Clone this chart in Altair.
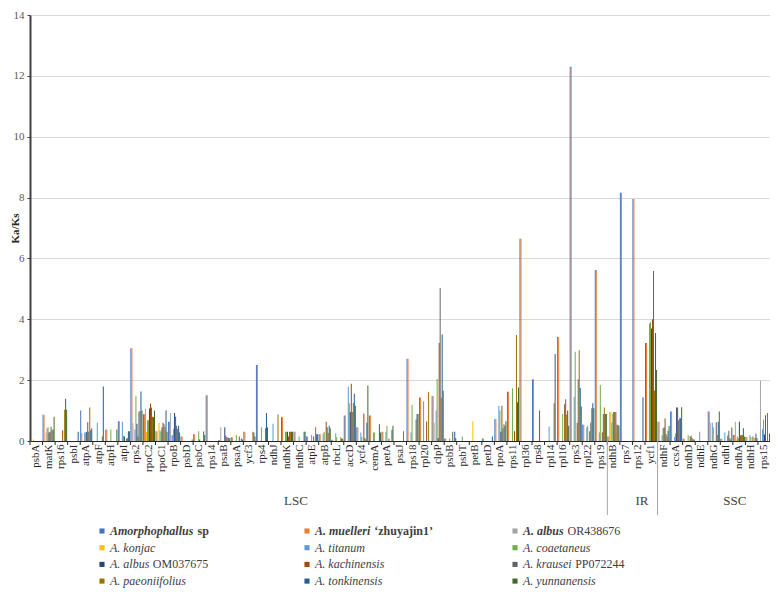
import altair as alt
import pandas as pd

# ---------------- data ----------------
GENES = ["psbA", "matK", "rps16", "psbI", "atpA", "atpF", "atpH", "atpI", "rps2", "rpoC2",
         "rpoC1", "rpoB", "psbD", "psbC", "rps14", "psaB", "psaA", "ycf3", "rps4", "ndhJ",
         "ndhK", "ndhC", "atpE", "atpB", "rbcL", "accD", "ycf4", "cemA", "petA", "psaJ",
         "rps18", "rpl20", "clpP", "psbB", "psbT", "petB", "petD", "rpoA", "rps11", "rpl36",
         "rps8", "rpl14", "rpl16", "rps3", "rpl22", "rps19", "ndhB", "rps7", "rps12", "ycf1",
         "ndhF", "ccsA", "ndhD", "ndhE", "ndhG", "ndhI", "ndhA", "ndhH", "rps15"]

SERIES = ["Amorphophallus sp", "A. muelleri 'zhuyajin1'", "A. albus OR438676", "A. konjac",
          "A. titanum", "A. coaetaneus", "A. albus OM037675", "A. kachinensis",
          "A. krausei PP072244", "A. paeoniifolius", "A. tonkinensis", "A. yunnanensis"]

# legend text split into italic part and upright suffix
LEGEND_MAIN = ["Amorphophallus", "A. muelleri", "A. albus", "A. konjac", "A. titanum",
               "A. coaetaneus", "A. albus", "A. kachinensis", "A. krausei", "A. paeoniifolius",
               "A. tonkinensis", "A. yunnanensis"]
LEGEND_SUFFIX = ["sp", "\u2018zhuyajin1\u2019", "OR438676", "", "", "", "OM037675", "", "PP072244",
                 "", "", ""]
LEGEND_BOLD = [True, True, True, False, False, False, False, False, False, False, False, False]

COLORS = ["#4472C4", "#ED7D31", "#A5A5A5", "#FFC000", "#5B9BD5", "#70AD47",
          "#264478", "#9E480E", "#636363", "#997300", "#255E91", "#43682B"]

S1 = [0, 0.86, 0, 0, 1.0, 0, 0.38, 0.65, 3.05, 0.88, 0.32, 0.63, 0.15, 0.22, 1.5, 0.03, 0.12, 0.3, 2.5, 0,
      0.78, 0.3, 0.15, 0.22, 0.04, 0.84, 0.45, 0.84, 0.3, 0, 2.7, 1.43, 1.48, 0.08, 0, 0, 0.08, 0.72, 1.62, 6.65,
      2.03, 0, 3.42, 12.3, 0.53, 5.62, 0.15, 8.16, 7.95, 3.22, 0.63, 0.97, 0.07, 0, 0.97, 0.07, 0.2, 0.13, 0]
S2 = [0, 0.86, 0, 0, 0.26, 0, 0.38, 0.65, 3.05, 0.88, 0.32, 0.63, 0.15, 0.22, 1.5, 0.03, 0.12, 0.3, 2.5, 0,
      0.78, 0.3, 0.15, 0.22, 0.04, 0.84, 0.45, 0.84, 0.3, 0, 2.7, 1.43, 1.48, 0.08, 0, 0, 0.08, 0.72, 1.62, 6.65,
      2.03, 0, 3.42, 12.3, 0.53, 5.62, 0.15, 8.16, 7.95, 3.22, 0.63, 0.97, 0.07, 0, 0.97, 0.07, 0.2, 0.13, 0]
S3 = [0, 0, 0, 0, 0, 0, 0, 0, 0.58, 1.07, 0, 0.92, 0, 0, 0, 0.45, 0, 0, 0, 0,
      0, 0, 0, 0, 0, 0, 0, 0, 0, 0, 0, 0, 0.6, 0, 0, 0, 0, 0, 0, 0,
      0, 0, 0, 0, 0, 0, 0.95, 0, 0, 0, 0, 0, 0, 0, 0.6, 0, 0.63, 0, 1.98]
S4 = [0.05, 0.28, 0, 0, 0, 0, 0, 0, 0, 0.3, 0.6, 0.18, 0, 0, 0, 0, 0, 0, 0, 0,
      0, 0, 0, 0, 0, 0, 0, 0, 0, 0, 0, 0, 0, 0, 0, 0.64, 0, 0, 0, 0,
      0, 0, 0, 0, 0, 0, 0.95, 0, 0, 0, 0, 0, 0, 0, 0, 0, 0.05, 0, 0]
S5 = [0, 0.42, 0, 0, 0.28, 0.6, 0, 0.63, 0.38, 0.68, 0.35, 0.2, 0, 0, 0, 0, 0, 0, 0, 0.57,
      0.3, 0, 0, 0.25, 0.25, 1.78, 0.28, 0.28, 0.3, 0, 0.28, 1.31, 1.0, 0, 0, 0, 0, 1.16, 0, 0,
      0, 0.48, 0, 1.45, 0.45, 0.29, 0.6, 0, 0, 3.86, 0.2, 0.13, 0, 0.3, 0.6, 0.28, 0.15, 0.2, 0.39]
S6 = [0, 0.45, 0, 0, 0.28, 0, 0.38, 0.17, 1.47, 0.68, 0.3, 0.4, 0, 0.32, 0, 0, 0.2, 0, 0.45, 0,
      0.3, 0.15, 0.2, 0.3, 0.12, 1.24, 0.13, 0.28, 0.5, 0, 1.19, 0, 2.04, 0.08, 0.15, 0, 0, 1.0, 1.73, 0,
      0, 0, 0.89, 2.93, 0.5, 1.84, 0.9, 0, 0, 3.9, 0.42, 0.25, 0.2, 0, 0.45, 0, 0.1, 0.13, 0.71]
S7 = [0, 0.28, 0, 0, 0.3, 0, 0, 0.15, 0.57, 1.07, 0.45, 0.92, 0, 0.05, 0, 0.45, 0, 0, 0, 0,
      0.3, 0, 0, 0, 0, 0.95, 0, 0, 0, 0, 0, 0, 0.1, 0, 0, 0, 0, 0.3, 0, 0,
      0, 0, 0, 0, 0, 0, 0.95, 0, 0, 3.7, 0.44, 1.1, 0, 0, 0, 0, 0.63, 0, 0.21]
S8 = [0, 0.3, 0.35, 0, 0.62, 0, 0, 0, 0.15, 1.23, 0.6, 0.8, 0, 0, 0, 0.18, 0, 0, 0, 0,
      0.15, 0, 0.15, 0.63, 0, 1.88, 0.9, 0, 0.07, 0, 0, 0.64, 3.22, 0, 0, 0, 0, 1.16, 0.32, 0,
      1.0, 0, 1.21, 0.6, 0.32, 0.29, 0.95, 0, 0, 4.0, 0.74, 1.1, 0.15, 0, 0, 0.18, 0.18, 0.15, 0.85]
S9 = [0, 0.47, 0, 0, 0.3, 0, 0, 0.07, 0.97, 1.1, 0.55, 0.5, 0, 0, 0, 0.12, 0.15, 0, 0, 0,
      0.3, 0, 0, 0.45, 0, 0.95, 0.1, 0, 0, 0, 0, 0, 5.03, 0.3, 0, 0, 0, 0.42, 0, 0,
      0, 0, 1.37, 2.03, 0.6, 0.89, 0.95, 0, 0, 5.59, 0.23, 0.68, 0.17, 0, 0.62, 0.34, 0.2, 0, 0]
S10 = [0, 0.35, 1.03, 0, 1.1, 0.15, 0, 0.1, 0.97, 0.8, 0.45, 0.4, 0, 0, 0, 0.12, 0, 0.3, 0.42, 0.87,
       0.3, 0, 0.45, 0.26, 0.12, 1.25, 0.05, 0, 0, 0.32, 0.71, 1.61, 1.42, 0, 0, 0, 0, 0.55, 3.48, 0,
       0, 1.24, 0.87, 2.98, 1.08, 1.1, 0.53, 0, 0, 1.66, 0.15, 0.75, 0.1, 0, 0.2, 0.1, 0.2, 0.1, 0.92]
S11 = [0, 0.38, 1.39, 0.3, 0.35, 1.79, 0, 0.32, 1.63, 0.78, 1.0, 0.5, 0, 0.31, 0, 0.1, 0.08, 0.28, 0.92, 0,
       0.3, 0.3, 0.22, 0.5, 0.07, 1.55, 0.6, 0.55, 0.37, 0, 0.89, 0, 3.5, 0.3, 0, 0, 0.15, 0.5, 1.27, 0,
       0, 2.86, 1.0, 1.74, 1.24, 0.89, 0.53, 0, 1.44, 3.55, 0.34, 0.75, 0.05, 0, 0.63, 0.05, 0.42, 0.25, 0]
S12 = [0, 0.8, 1.03, 0, 0.42, 0, 0.38, 0.32, 1.0, 1.0, 0.3, 0.28, 0.05, 0.2, 0, 0.1, 0.05, 0.15, 0.45, 0,
       0.3, 0.3, 0.22, 0.42, 0.07, 1.16, 1.82, 0.28, 0.5, 0, 0.89, 0, 1.65, 0.1, 0, 0, 0, 0.65, 1.76, 0,
       0, 0, 0.5, 1.13, 1.08, 0.89, 0.5, 0, 0, 2.33, 0.49, 1.11, 0.05, 0, 0.97, 0.44, 0.15, 0.1, 0.25]

REGIONS = ["LSC", "IR", "SSC"]
REGION_ANCHOR = ["ndhK", "rps12", "ndhI"]     # gene whose band start carries the label
REGION_BOUNDS = ["ndhB", "ndhF"]             # genes where a new region starts

ALL = [S1, S2, S3, S4, S5, S6, S7, S8, S9, S10, S11, S12]

# ---------------- layout ----------------
W, H = 740, 426
FONT = "Liberation Serif"
TXT = "#404040"

rows = []
for name, vals in zip(SERIES, ALL):
    for g, v in zip(GENES, vals):
        rows.append({"gene": g, "series": name, "value": v})
df = pd.DataFrame(rows)

color_scale = alt.Scale(domain=SERIES, range=COLORS)
X_SCALE = alt.Scale(paddingInner=0.04, paddingOuter=0)
X_AXIS = alt.Axis(title=None, labelAngle=270, labelAlign="right", labelBaseline="middle",
                  labelFont=FONT, labelFontSize=11, labelColor="#262626", labelPadding=3,
                  labelOverlap=False, ticks=False, domainColor="#262626", domainWidth=1.2,
                  grid=False)


def xenc(**kw):
    return alt.X("gene:N", sort=GENES, scale=X_SCALE, axis=X_AXIS, **kw)


bars = alt.Chart(df).mark_bar().encode(
    x=xenc(),
    xOffset=alt.XOffset("series:N", sort=SERIES, scale=alt.Scale(paddingInner=0, paddingOuter=0)),
    y=alt.Y("value:Q", scale=alt.Scale(domain=[0, 14], nice=False),
            axis=alt.Axis(title="Ka/Ks", values=[0, 2, 4, 6, 8, 10, 12, 14], format="d",
                          labelFont=FONT, labelFontSize=11, labelColor="#595959", labelPadding=3,
                          tickSize=3, tickColor="#404040", domainColor="#404040", domainWidth=2,
                          gridColor="#D9D9D9", gridWidth=1,
                          titleFont=FONT, titleFontSize=11, titleFontWeight="bold", titleColor="#262626",
                          titleAngle=270, titleX=-15, titleY=H / 2, titleAlign="center",
                          titleBaseline="middle")),
    color=alt.Color("series:N", scale=color_scale, legend=None),
)

gdf = pd.DataFrame({"gene": GENES})
ticks = alt.Chart(gdf).mark_rule(color="#262626", strokeWidth=1).encode(
    x=xenc(bandPosition=0),
    y=alt.value(H), y2=alt.value(H + 4),
)

bdf = pd.DataFrame({"gene": REGION_BOUNDS})
seps = alt.Chart(bdf).mark_rule(color="#A6A6A6", strokeWidth=1).encode(
    x=xenc(bandPosition=0),
    y=alt.value(H), y2=alt.value(H + 74),
)

rdf = pd.DataFrame({"gene": REGION_ANCHOR, "label": REGIONS})
region_txt = alt.Chart(rdf).mark_text(font=FONT, fontSize=13, color=TXT, align="left",
                                      baseline="middle", dx=3).encode(
    x=xenc(bandPosition=0),
    y=alt.value(H + 60),
    text="label:N",
)

# ---------- manual legend (3 columns x 4 rows) ----------
COL_X = [72, 277, 485]        # square centre, plot coordinates
ROW_Y0, ROW_DY = 516, 16.7
TEXT_GAP = 8

# approximate Times/Liberation Serif advance widths (em)
CW = {"A": 0.63, ".": 0.25, " ": 0.25, "m": 0.74, "u": 0.52, "e": 0.444, "l": 0.278, "r": 0.389,
      "i": 0.278, "a": 0.5, "b": 0.5, "s": 0.389, "k": 0.444, "o": 0.5, "n": 0.52, "j": 0.278,
      "c": 0.444, "t": 0.278, "p": 0.5, "h": 0.52, "f": 0.278, "y": 0.444, "z": 0.389}


def text_w(s, size, bold):
    w = sum(CW.get(ch, 0.5) for ch in s) * size
    return w * (1.04 if bold else 1.0)


leg = []
for i, name in enumerate(SERIES):
    col, row = i % 3, i // 3
    size = 12
    lx = COL_X[col]
    ly = ROW_Y0 + row * ROW_DY
    tx = lx + TEXT_GAP
    leg.append({
        "series": name, "lx": lx, "ly": ly, "tx": tx, "main": LEGEND_MAIN[i],
        "suffix": LEGEND_SUFFIX[i], "bold": LEGEND_BOLD[i], "size": size,
        "sx": tx + text_w(LEGEND_MAIN[i] + " ", size, LEGEND_BOLD[i]),
        "sbold": i < 2,
    })
ldf = pd.DataFrame(leg)

squares = alt.Chart(ldf).mark_square(size=26, opacity=1).encode(
    x=alt.X("lx:Q", scale=None, axis=None), y=alt.Y("ly:Q", scale=None, axis=None),
    color=alt.Color("series:N", scale=color_scale, legend=None),
)


def legend_text(frame, xfield, tfield, style, weight):
    return alt.Chart(frame).mark_text(font=FONT, fontStyle=style, fontWeight=weight, color=TXT,
                                      align="left", baseline="middle").encode(
        x=alt.X(f"{xfield}:Q", scale=None, axis=None), y=alt.Y("ly:Q", scale=None, axis=None),
        text=f"{tfield}:N", size=alt.Size("size:Q", scale=None, legend=None),
    )


main_bold = legend_text(ldf[ldf["bold"]], "tx", "main", "italic", "bold")
main_norm = legend_text(ldf[~ldf["bold"]], "tx", "main", "italic", "normal")
suf = ldf[ldf["suffix"] != ""]
suf_bold = legend_text(suf[suf["sbold"]], "sx", "suffix", "normal", "bold")
suf_norm = legend_text(suf[~suf["sbold"]], "sx", "suffix", "normal", "normal")

chart = alt.layer(bars, ticks, seps, region_txt, squares, main_bold, main_norm, suf_bold, suf_norm).properties(
    width=W, height=H,
    autosize=alt.AutoSizeParams(type="none"),
    padding={"left": 22, "top": 7, "right": 0, "bottom": 147},
    background="white",
).configure_view(stroke=None)

chart.save("out.html", embed_options={"renderer": "svg", "actions": False})
